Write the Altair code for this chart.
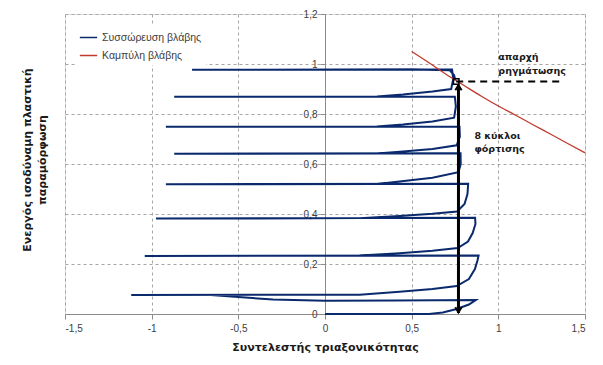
import altair as alt
import pandas as pd

# Series names
series_names = ["Συσσώρευση βλάβης", "Καμπύλη βλάβης"]
series_colors = ["#0B2A6E", "#C0392B"]

# Damage accumulation path (drawing order)
path_x = [
    0.0, 0.6, 0.68, 0.76, 0.83, 0.87,
    0.4, 0.0, -0.3, -0.5, -0.66, -1.118,
    0.2, 0.43, 0.62, 0.76, 0.83, 0.865, 0.88, 0.886,
    -1.04,
    0.2, 0.43, 0.62, 0.766, 0.825, 0.852, 0.868, 0.866,
    -0.975,
    0.2, 0.43, 0.62, 0.762, 0.805, 0.822, 0.826,
    -0.918,
    0.3, 0.43, 0.62, 0.77, 0.783, 0.782,
    -0.87,
    0.3, 0.45, 0.62, 0.76, 0.778, 0.776,
    -0.918,
    0.3, 0.45, 0.62, 0.745, 0.755, 0.749,
    -0.87,
    0.3, 0.45, 0.62, 0.728, 0.74, 0.733,
    -0.767,
    0.5, 0.72, 0.745, 0.752,
]
path_y = [
    0.0, 0.0, 0.006, 0.02, 0.038, 0.056,
    0.054, 0.053, 0.058, 0.068, 0.076, 0.076,
    0.077, 0.089, 0.1, 0.112, 0.14, 0.18, 0.215, 0.234,
    0.232,
    0.234, 0.243, 0.253, 0.264, 0.29, 0.324, 0.36, 0.385,
    0.382,
    0.383, 0.392, 0.401, 0.41, 0.44, 0.48, 0.521,
    0.519,
    0.52, 0.53, 0.545, 0.567, 0.6, 0.643,
    0.641,
    0.642, 0.65, 0.66, 0.675, 0.71, 0.749,
    0.749,
    0.75, 0.758, 0.77, 0.785, 0.83, 0.869,
    0.869,
    0.87, 0.878, 0.89, 0.9, 0.94, 0.978,
    0.977,
    0.978, 0.975, 0.955, 0.935,
]

# Damage curve
curve_x = [0.5, 0.6, 0.7, 0.8, 0.9, 1.0, 1.1, 1.2, 1.3, 1.4, 1.5]
curve_y = [1.05, 1.005, 0.958, 0.915, 0.872, 0.832, 0.795, 0.757, 0.72, 0.682, 0.645]

# Annotations
crack_x = [0.757, 1.36]
crack_y = [0.93, 0.93]
arrow_x = 0.77
arrow_y = [0.915, 0.004]

x_ticks = [-1.5, -1, -0.5, 0, 0.5, 1, 1.5]
y_ticks = [0, 0.2, 0.4, 0.6, 0.8, 1.0, 1.2]

W, H = 520, 300

blue_df = pd.DataFrame({"x": path_x, "y": path_y, "ord": list(range(len(path_x))),
                        "series": series_names[0]})
red_df = pd.DataFrame({"x": curve_x, "y": curve_y, "series": series_names[1]})

xscale = alt.Scale(domain=[-1.5, 1.5], nice=False, zero=False)
yscale = alt.Scale(domain=[0, 1.2], nice=False, zero=False)
color = alt.Color("series:N", scale=alt.Scale(domain=series_names, range=series_colors),
                  legend=alt.Legend(title=None, orient="none", legendX=10, legendY=10,
                                    symbolType="stroke", symbolSize=300, symbolStrokeWidth=1.5,
                                    labelFontSize=10.5, labelFont="Liberation Sans",
                                    labelColor="#404040", rowPadding=3, padding=4,
                                    fillColor="white"))

lab_expr = "replace(replace(format(datum.value, '~g'), '.', ','), '\u2212', '-')"

xaxis = alt.Axis(values=x_ticks, labelExpr=lab_expr, grid=True, gridDash=[3, 3],
                 gridColor="#a6a6a6", domainColor="#8c8c8c", tickColor="#8c8c8c",
                 tickSize=5, labelFontSize=10, labelFont="Liberation Sans",
                 labelColor="#404040", labelPadding=4,
                 title="Συντελεστής τριαξονικότητας", titleFont="DejaVu Sans",
                 titleFontSize=11, titleFontWeight="bold", titleColor="#1a1a1a",
                 titlePadding=8)
yaxis = alt.Axis(values=y_ticks, labelExpr=lab_expr, grid=True, gridDash=[3, 3],
                 gridColor="#a6a6a6", orient="left",
                 offset=-W / 2, domainColor="#8c8c8c", tickColor="#8c8c8c",
                 tickSize=5, labelFontSize=10, labelFont="Liberation Sans",
                 labelColor="#404040", labelPadding=3, title=None)

blue = alt.Chart(blue_df).mark_line(strokeWidth=2, interpolate="linear").encode(
    x=alt.X("x:Q", scale=xscale, axis=xaxis),
    y=alt.Y("y:Q", scale=yscale, axis=yaxis),
    order="ord:Q",
    color=color,
)
red = alt.Chart(red_df).mark_line(strokeWidth=1.3, interpolate="monotone").encode(
    x=alt.X("x:Q", scale=xscale),
    y=alt.Y("y:Q", scale=yscale),
    color=color,
)

ann_df = pd.DataFrame({"x": crack_x, "y": crack_y})
dashed = alt.Chart(ann_df).mark_line(color="black", strokeWidth=2, strokeDash=[7, 5]).encode(
    x=alt.X("x:Q", scale=xscale), y=alt.Y("y:Q", scale=yscale))

arrow = alt.Chart().mark_rule(color="black", strokeWidth=3).encode(
    x=alt.datum(arrow_x), y=alt.datum(arrow_y[0]), y2=alt.datum(arrow_y[1]))
head_down = alt.Chart().mark_point(shape="M-1,-1.2L0,0.4L1,-1.2", filled=False,
                                   stroke="black", strokeWidth=2, size=40, opacity=1).encode(
    x=alt.datum(arrow_x), y=alt.datum(0.012))
head_up = alt.Chart().mark_point(shape="M-1,1.2L0,-0.4L1,1.2", filled=False,
                                 stroke="black", strokeWidth=2, size=40, opacity=1).encode(
    x=alt.datum(arrow_x), y=alt.datum(0.91))
square = alt.Chart().mark_point(shape="square", filled=False, stroke="black",
                                strokeWidth=1.5, size=30, opacity=1).encode(
    x=alt.datum(crack_x[0]), y=alt.datum(crack_y[0]))

txt_style = dict(font="DejaVu Sans", fontSize=9.5, fontWeight="bold", color="#1a1a1a",
                 align="left", baseline="middle")
t1 = alt.Chart().mark_text(**txt_style).encode(x=alt.datum(1.0), y=alt.datum(1.03), text=alt.value("απαρχή"))
t2 = alt.Chart().mark_text(**txt_style).encode(x=alt.datum(1.0), y=alt.datum(0.973), text=alt.value("ρηγμάτωσης"))
t3 = alt.Chart().mark_text(**txt_style).encode(x=alt.datum(0.862), y=alt.datum(0.714), text=alt.value("8 κύκλοι"))
t4 = alt.Chart().mark_text(**txt_style).encode(x=alt.datum(0.862), y=alt.datum(0.66), text=alt.value("φόρτισης"))

ystyle = dict(font="DejaVu Sans", fontSize=11, fontWeight="bold", color="#1a1a1a",
              align="center", baseline="middle", angle=270)
yt1 = alt.Chart().mark_text(**ystyle).encode(x=alt.value(-37), y=alt.value(146),
                                             text=alt.value("Ενεργός ισοδύναμη πλαστική"))
yt2 = alt.Chart().mark_text(**ystyle).encode(x=alt.value(-22), y=alt.value(146),
                                             text=alt.value("παραμόρφωση"))

chart = alt.layer(blue, red, dashed, arrow, head_down, head_up, square,
                  t1, t2, t3, t4, yt1, yt2).properties(
    width=W, height=H,
    autosize=alt.AutoSizeParams(type="none"),
    padding={"left": 57, "top": 6, "right": 10, "bottom": 45},
).configure_view(stroke=None).configure(background="white")

chart.save("out.html", embed_options={"renderer": "svg", "actions": False})
